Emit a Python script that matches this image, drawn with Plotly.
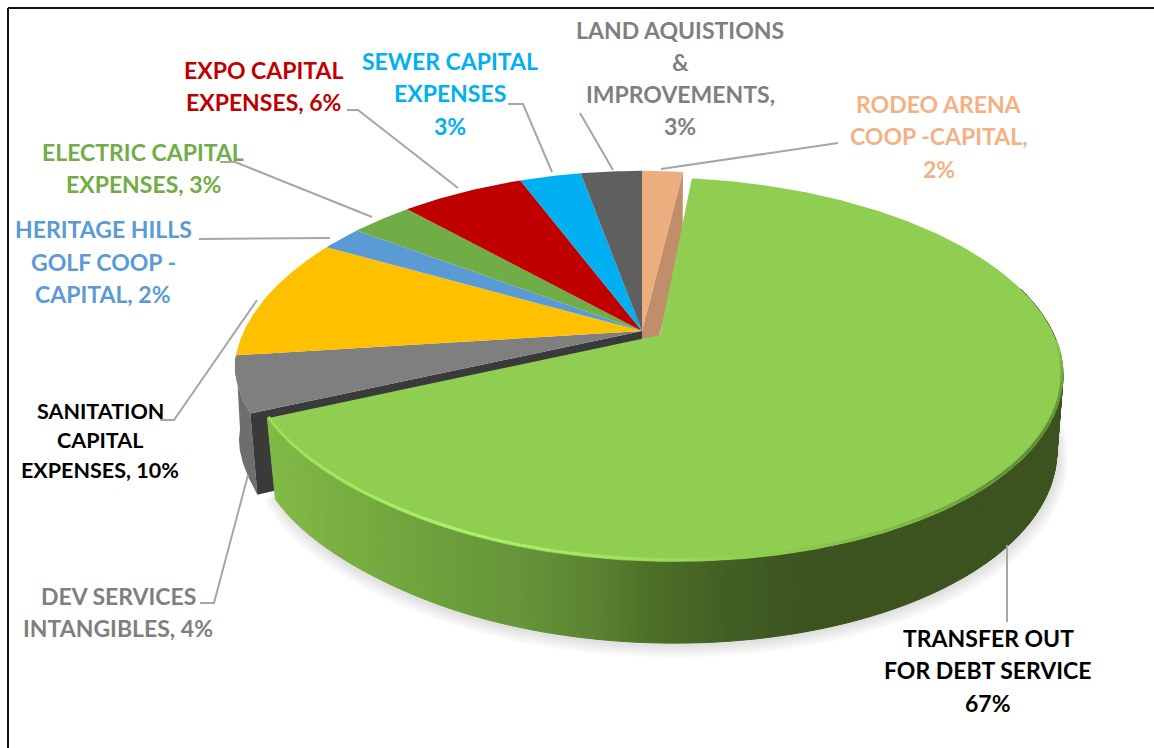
import numpy as np
import plotly.graph_objects as go

# ---- data ----
categories = ["TRANSFER OUT FOR DEBT SERVICE", "DEV SERVICES INTANGIBLES",
              "SANITATION CAPITAL EXPENSES", "HERITAGE HILLS GOLF COOP - CAPITAL",
              "ELECTRIC CAPITAL EXPENSES", "EXPO CAPITAL EXPENSES",
              "SEWER CAPITAL EXPENSES", "LAND AQUISTIONS & IMPROVEMENTS",
              "RODEO ARENA COOP -CAPITAL"]
shares = [67, 4, 10, 2, 3, 6, 3, 3, 2]
slice_colors = ["#8FCE50", "#7F7F7F", "#FFC000", "#5B9BD5", "#70AD47",
                "#C00000", "#00B0F0", "#5F5F5F", "#EDAE7F"]

label_lines = [
    (["TRANSFER OUT", "FOR DEBT SERVICE", "67%"], 988, [638, 670, 703], "#000000", 23),
    (["DEV SERVICES", "INTANGIBLES, 4%"], 118, [596, 628], "#7F7F7F", 23),
    (["SANITATION", "CAPITAL", "EXPENSES, 10%"], 100, [411, 440, 470], "#000000", 21.5),
    (["HERITAGE HILLS", "GOLF COOP -", "CAPITAL, 2%"], 103, [229, 262, 294], "#5B9BD5", 23),
    (["ELECTRIC CAPITAL", "EXPENSES, 3%"], 143, [152, 184], "#70AD47", 23),
    (["EXPO CAPITAL", "EXPENSES, 6%"], 263, [70, 102], "#C00000", 23),
    (["SEWER CAPITAL", "EXPENSES", "3%"], 450, [61, 93, 126], "#00B0F0", 23),
    (["LAND AQUISTIONS", "&", "IMPROVEMENTS,", "3%"], 680, [30, 62, 94, 126], "#7F7F7F", 23),
    (["RODEO ARENA", "COOP -CAPITAL,", "2%"], 939, [104, 136, 169], "#F4B183", 23),
]
leader_x = [[1007, 1007], [200, 214, 248], [160, 174, 257], [199, 330], [220, 235, 372],
            [347, 358, 458], [508, 523, 552], [580, 613], [838, 661]]
leader_y = [[545, 622], [603, 603, 475], [420, 420, 300], [239, 238], [162, 162, 217],
            [110, 110, 188], [104, 104, 172], [113, 170], [143, 169]]

START = 7.2
K = 0.18


def project(theta, cx, cy, a, b, shear=0.0, tx=0.0, ty=0.0, tw=1.0, tend=0.0, kx=K):
    """Perspective map of the disc. tx/ty round off the corner at angle tend."""
    theta = np.asarray(theta, float)
    t = np.radians(theta)
    u, v = np.sin(t), -np.cos(t)
    w = 1 - K * v
    wx = 1 - kx * v
    f = np.clip(1 - np.abs(theta - tend) / tw, 0, 1) ** 2
    return cx + (a * u + shear * v) / wx + tx * f, cy + b * v / w + ty * f


def hexrgb(h):
    return np.array([int(h[i:i + 2], 16) for i in (1, 3, 5)], float)


def ramp(x, xs, cols):
    arr = np.array([hexrgb(c) for c in cols])
    r = [np.interp(x, xs, arr[:, i]) for i in range(3)]
    return "rgb(%d,%d,%d)" % tuple(r)


fig = go.Figure()


def poly(x, y, color, line=None, opacity=None):
    tr = go.Scatter(x=list(x), y=list(y), mode="lines", fill="toself", fillcolor=color,
                    line=dict(color=line or color, width=1 if line else 0),
                    hoverinfo="skip", showlegend=False)
    if opacity is not None:
        tr.opacity = opacity
    fig.add_trace(tr)


# slice angle spans, clockwise from the back of the disc
fractions = np.array(shares) / sum(shares) * 360
ends = START + np.cumsum(fractions)
starts = ends - fractions
CUT = ends[0]

# geometry of the exploded slice and of the rest
GREEN = dict(cx=660, cy=335, a=394, b=186, shear=12, tx=-5, ty=10, tw=35, tend=CUT)
GREEN_LOW = dict(cx=660, cy=409, a=388, b=192, shear=12, tx=-3, ty=14, tw=35, tend=CUT)
REST = dict(cx=642, cy=331, a=398, b=189, kx=0.22)
REST_LOW = dict(cx=642, cy=405, a=394, b=192, kx=0.22)
DEV = dict(REST, tx=11, ty=8, tw=14, tend=CUT)
DEV_LOW = dict(REST_LOW, tx=14, ty=14, tw=14, tend=CUT)

# soft shadow under the disc
for i, grow in enumerate([11, 9, 7, 5, 3]):
    th = np.linspace(85, 250, 200)
    x, y = project(th, 660, 409 + grow * 0.7, 388 + grow, 192 + grow * 0.5, 12,
                   0, 12, 35, CUT)
    poly(np.r_[x, x[0]], np.r_[y, y[0]], "#000000", opacity=0.022)

# side of the small grey slice
th = np.linspace(starts[1], ends[1], 40)
xt, yt = project(th, **DEV)
xb, yb = project(th, **DEV_LOW)
poly(np.r_[xt, xb[::-1]], np.r_[yt, yb[::-1]], "#6E6E6E")

# dark cut wall left of the exploded slice
xt, yt = project(starts[1], **DEV)
xb, yb = project(starts[1], **DEV_LOW)
poly([xt, REST["cx"], REST_LOW["cx"], xb], [yt, REST["cy"], REST_LOW["cy"], yb], "#3A3A3A")

# brown cut wall of the orange slice
xt, yt = project(START, **REST)
xb, yb = project(START, **REST_LOW)
poly([xt, REST["cx"], REST_LOW["cx"], xb], [yt, REST["cy"], REST_LOW["cy"], yb], "#C08E69")

# top faces of the un-exploded slices
for i in range(1, len(shares)):
    th = np.linspace(starts[i], ends[i], max(8, int(fractions[i] * 2)))
    x, y = project(th, **(DEV if i == 1 else REST))
    poly(np.r_[REST["cx"], x, REST["cx"]], np.r_[REST["cy"], y, REST["cy"]], slice_colors[i])

# rim of the exploded slice, shaded across the page
xs = [272, 420, 520, 600, 640, 720, 820, 1060]
cols = ["#82BA47", "#6FA33D", "#66953A", "#5A8131", "#507329", "#436024", "#3C5320", "#3C5320"]
edges = np.linspace(75, CUT, 181)
for t0, t1 in zip(edges[:-1], edges[1:]):
    th = np.array([t0, t1])
    xt, yt = project(th, **GREEN)
    xb, yb = project(th, **GREEN_LOW)
    c = ramp(xt.mean(), xs, cols)
    poly([xt[0], xt[1], xb[1], xb[0], xt[0]], [yt[0], yt[1], yb[1], yb[0], yt[0]], c, line=c)

# top face of the exploded slice
th = np.linspace(starts[0], ends[0], 400)
x, y = project(th, **GREEN)
poly(np.r_[GREEN["cx"], x, GREEN["cx"]], np.r_[GREEN["cy"], y, GREEN["cy"]], slice_colors[0])

# bevel along the rim of the exploded slice
th_stops = [92, 105, 120, 135, 150, 170, 190, 205, 235, CUT]
bevel = ["#8FCE50", "#6F9E3E", "#5E8A35", "#64933A", "#7FB648", "#8FCE50",
         "#A4E860", "#ACF36A", "#A0E55C", "#9BDD58"]
edges = np.linspace(92, CUT, 80)
low = dict(GREEN, cy=GREEN["cy"] - 1, a=GREEN["a"] - 1, b=GREEN["b"] - 1)
for t0, t1 in zip(edges[:-1], edges[1:]):
    x, y = project(np.array([t0, t1]), **low)
    fig.add_trace(go.Scatter(x=x, y=y, mode="lines", hoverinfo="skip", showlegend=False,
                             line=dict(color=ramp((t0 + t1) / 2, th_stops, bevel), width=3)))

# leader lines
for lx, ly in zip(leader_x, leader_y):
    fig.add_trace(go.Scatter(x=lx, y=ly, mode="lines", hoverinfo="skip", showlegend=False,
                             line=dict(color="#A6A6A6", width=2)))

# labels
annotations = []
for lines, cx, ys, color, size in label_lines:
    for text, yy in zip(lines, ys):
        annotations.append(dict(x=cx, y=yy, xref="x", yref="y", text="<b>%s</b>" % text,
                                showarrow=False, xanchor="center", yanchor="middle",
                                font=dict(family="Lato", size=size, color=color)))

# picture frame
shapes = [dict(type="line", x0=8, x1=8, y0=8, y1=748, xref="x", yref="y",
               line=dict(color="#111111", width=2)),
          dict(type="line", x0=8, x1=1154, y0=8, y1=8, xref="x", yref="y",
               line=dict(color="#111111", width=2))]

fig.update_layout(width=1154, height=748, margin=dict(l=0, r=0, t=0, b=0),
                  paper_bgcolor="white", plot_bgcolor="white", showlegend=False,
                  xaxis=dict(range=[0, 1154], visible=False, fixedrange=True),
                  yaxis=dict(range=[748, 0], visible=False, fixedrange=True),
                  annotations=annotations, shapes=shapes)
fig.write_html("out.html", config={"displayModeBar": False},
               post_script="document.body.style.margin='0';document.documentElement.style.overflow='hidden';")
